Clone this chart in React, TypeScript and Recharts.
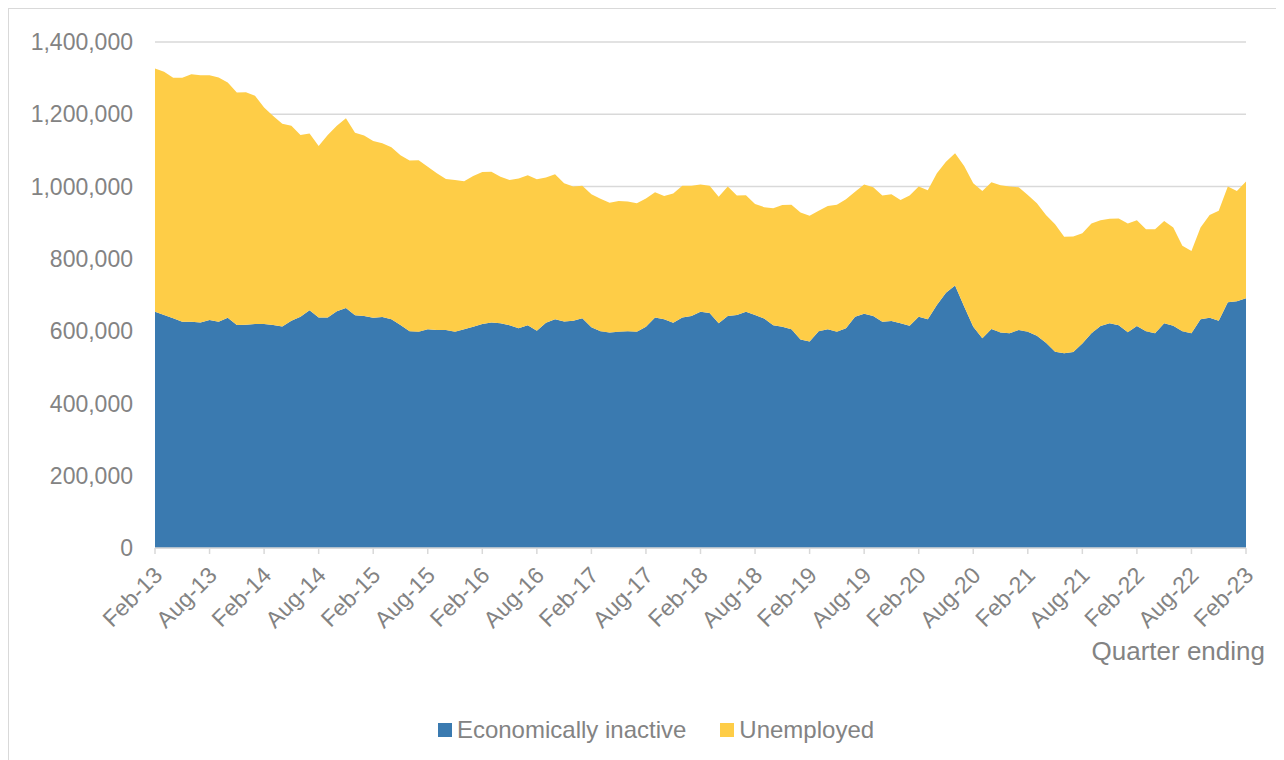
import { AreaChart, Area, XAxis, YAxis, CartesianGrid } from 'recharts';

const MONTH_NAMES = ['Jan', 'Feb', 'Mar', 'Apr', 'May', 'Jun', 'Jul', 'Aug', 'Sep', 'Oct', 'Nov', 'Dec'];

// quarter ending, monthly from Feb-13 to Feb-23
const quarters: string[] = [];
for (let i = 0; i <= 120; i++) {
  const m = (1 + i) % 12;
  const yr = 13 + Math.floor((1 + i) / 12);
  quarters.push(`${MONTH_NAMES[m]}-${yr}`);
}

const economicallyInactive = [
  654000, 645000, 636000, 626000, 626000, 624000, 631000, 626000, 637000, 617000,
  618000, 620000, 620000, 617000, 613000, 629000, 640000, 658000, 638000, 638000,
  655000, 664000, 644000, 642000, 637000, 639000, 633000, 617000, 600000, 598000,
  605000, 603000, 603000, 598000, 605000, 612000, 620000, 624000, 622000, 616000,
  608000, 616000, 601000, 623000, 633000, 627000, 629000, 636000, 611000, 600000,
  596000, 598000, 600000, 598000, 612000, 638000, 633000, 623000, 638000, 642000,
  654000, 650000, 622000, 642000, 645000, 654000, 645000, 635000, 616000, 612000,
  605000, 577000, 571000, 600000, 605000, 598000, 608000, 640000, 648000, 642000,
  626000, 628000, 622000, 615000, 640000, 633000, 672000, 706000, 726000, 668000,
  612000, 580000, 606000, 596000, 594000, 603000, 598000, 587000, 568000, 543000,
  539000, 542000, 566000, 594000, 614000, 622000, 616000, 597000, 614000, 600000,
  594000, 622000, 615000, 600000, 594000, 633000, 637000, 629000, 680000, 683000,
  691000,
];

const unemployed = [
  673000, 673000, 665000, 675000, 685000, 684000, 677000, 676000, 651000, 643000,
  643000, 631000, 599000, 578000, 561000, 539000, 503000, 489000, 474000, 505000,
  513000, 525000, 505000, 499000, 489000, 481000, 476000, 470000, 472000, 475000,
  450000, 434000, 418000, 420000, 410000, 417000, 420000, 417000, 405000, 402000,
  414000, 415000, 419000, 402000, 401000, 382000, 371000, 366000, 368000, 366000,
  359000, 362000, 359000, 356000, 355000, 346000, 341000, 358000, 364000, 360000,
  352000, 352000, 350000, 358000, 330000, 322000, 307000, 308000, 324000, 337000,
  345000, 351000, 348000, 333000, 341000, 352000, 357000, 346000, 358000, 356000,
  349000, 351000, 341000, 360000, 360000, 357000, 365000, 363000, 366000, 389000,
  397000, 408000, 406000, 408000, 406000, 395000, 379000, 367000, 353000, 353000,
  322000, 320000, 305000, 304000, 293000, 289000, 296000, 301000, 293000, 282000,
  288000, 283000, 272000, 236000, 228000, 254000, 284000, 304000, 320000, 305000,
  323000,
];

const yTicks = [0, 200000, 400000, 600000, 800000, 1000000, 1200000, 1400000];

const data = quarters.map((q, i) => ({
  quarter: q,
  inactive: economicallyInactive[i],
  unemployed: unemployed[i],
}));

const FONT = '"Liberation Sans", Arial, sans-serif';
const TEXT = '#838383';
const BLUE = '#3a7ab0';
const YELLOW = '#fecd47';

const XTick = ({ x, y, payload }: any) => (
  <g transform={`translate(${x - 3},${y + 9})`}>
    <text
      x={0}
      y={0}
      dy="0.72em"
      textAnchor="end"
      transform="rotate(-45)"
      fill={TEXT}
      fontSize={23}
      fontFamily={FONT}
    >
      {payload.value}
    </text>
  </g>
);

export default function App() {
  return (
    <div
      style={{
        position: 'relative',
        width: 1290,
        height: 760,
        borderLeft: '1px solid #d9d9d9',
        borderTop: '1px solid #d9d9d9',
        fontFamily: FONT,
        boxSizing: 'border-box',
      }}
    >
      <AreaChart
        width={1270}
        height={745}
        data={data}
        margin={{ top: 33, right: 33, bottom: 0, left: 0 }}
      >
        <CartesianGrid vertical={false} stroke="#d9d9d9" strokeWidth={1.5} />
        <XAxis
          dataKey="quarter"
          interval={5}
          height={206}
          stroke="#d9d9d9"
          strokeWidth={1.5}
          tickSize={6}
          tick={<XTick />}
        />
        <YAxis
          width={146}
          domain={[0, 1400000]}
          ticks={yTicks}
          axisLine={false}
          tickLine={false}
          tickSize={0}
          tickMargin={22}
          tickFormatter={(v: number) => v.toLocaleString('en-GB')}
          tick={{ fill: TEXT, fontSize: 23, fontFamily: FONT }}
        />
        <Area
          type="linear"
          dataKey="inactive"
          stackId="a"
          fill={BLUE}
          fillOpacity={1}
          stroke="none"
          isAnimationActive={false}
        />
        <Area
          type="linear"
          dataKey="unemployed"
          stackId="a"
          fill={YELLOW}
          fillOpacity={1}
          stroke="none"
          isAnimationActive={false}
        />
      </AreaChart>
      <div
        style={{
          position: 'absolute',
          right: 1290 - 1265 + 8,
          top: 636 - 9,
          color: TEXT,
          fontSize: 26,
          whiteSpace: 'nowrap',
        }}
      >
        Quarter ending
      </div>
      <div
        style={{
          position: 'absolute',
          left: 0,
          width: 1294,
          top: 716 - 9,
          display: 'flex',
          justifyContent: 'center',
          gap: 34,
          color: TEXT,
          fontSize: 24,
        }}
      >
        <span style={{ display: 'flex', alignItems: 'center' }}>
          <span style={{ width: 14, height: 14, background: BLUE, marginRight: 5, display: 'inline-block' }} />
          Economically inactive
        </span>
        <span style={{ display: 'flex', alignItems: 'center' }}>
          <span style={{ width: 14, height: 14, background: YELLOW, marginRight: 5, display: 'inline-block' }} />
          Unemployed
        </span>
      </div>
    </div>
  );
}
